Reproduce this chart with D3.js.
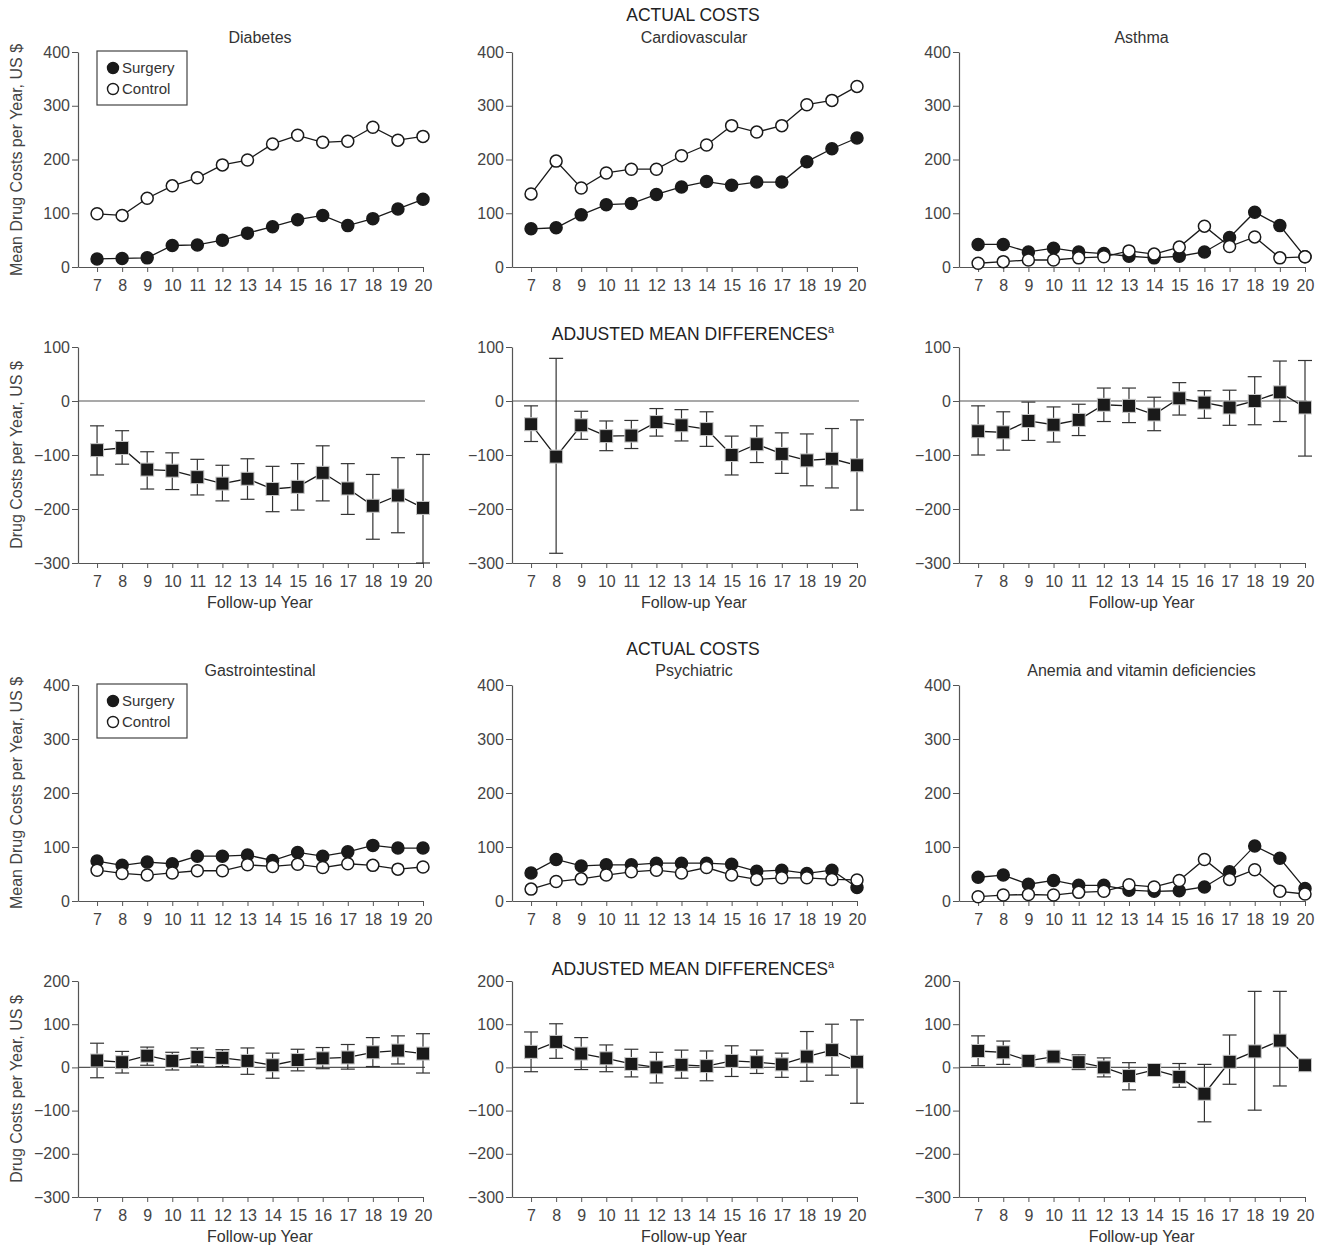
<!DOCTYPE html>
<html>
<head>
<meta charset="utf-8">
<script src="https://cdn.jsdelivr.net/npm/d3@7"></script>
<style>
  body { margin: 0; background: #fff; }
  svg { font-family: "Liberation Sans", Arial, sans-serif; }
  .tick text { fill: #444; font-size: 16px; }
  .tick line, .domain { stroke: #555; }
</style>
</head>
<body>
<div id="chart"></div>
<script>
// follow-up years on the x axis
var years = [7, 8, 9, 10, 11, 12, 13, 14, 15, 16, 17, 18, 19, 20];

// actual costs, mean drug costs per year (US $)
var diabetesSurgery = [15, 16, 17, 40, 41, 50, 63, 75, 88, 96, 77, 90, 108, 126];
var diabetesControl = [99, 96, 128, 151, 166, 190, 199, 229, 245, 232, 234, 260, 236, 243];
var cardioSurgery = [71, 73, 97, 116, 118, 135, 149, 159, 152, 158, 158, 196, 220, 240];
var cardioControl = [136, 197, 147, 175, 182, 182, 207, 227, 263, 251, 263, 302, 310, 336];
var asthmaSurgery = [42, 42, 28, 35, 28, 25, 20, 17, 20, 28, 55, 102, 77, 19];
var asthmaControl = [7, 10, 13, 13, 17, 19, 30, 24, 37, 76, 38, 56, 17, 19];
var giSurgery = [74, 66, 72, 69, 83, 83, 85, 75, 90, 83, 91, 103, 98, 98];
var giControl = [57, 51, 48, 52, 56, 56, 67, 64, 68, 62, 69, 66, 59, 63];
var psychSurgery = [52, 77, 65, 67, 67, 70, 70, 70, 68, 55, 57, 51, 57, 25];
var psychControl = [22, 36, 41, 48, 54, 57, 52, 62, 48, 40, 43, 43, 40, 39];
var anemiaSurgery = [44, 48, 31, 38, 29, 29, 20, 18, 19, 26, 54, 102, 79, 23];
var anemiaControl = [8, 11, 12, 11, 16, 18, 30, 26, 38, 77, 40, 58, 18, 13];

// adjusted mean differences with lower / upper limits
var diabetesDiff = [-91, -87, -127, -129, -141, -153, -144, -163, -159, -133, -162, -194, -175, -198];
var diabetesLow = [-137, -117, -163, -164, -174, -185, -182, -205, -202, -185, -210, -256, -244, -300];
var diabetesHigh = [-46, -55, -94, -96, -108, -119, -107, -121, -116, -83, -116, -136, -105, -99];
var cardioDiff = [-43, -103, -45, -65, -64, -39, -45, -52, -100, -80, -98, -110, -107, -119];
var cardioLow = [-75, -282, -71, -92, -88, -65, -74, -84, -137, -114, -134, -157, -161, -202];
var cardioHigh = [-9, 79, -19, -37, -36, -14, -16, -20, -65, -46, -59, -61, -51, -35];
var asthmaDiff = [-56, -58, -37, -44, -35, -7, -9, -25, 5, -3, -12, 0, 16, -12];
var asthmaLow = [-100, -91, -73, -76, -64, -38, -40, -55, -26, -32, -45, -44, -38, -102];
var asthmaHigh = [-9, -20, -2, -11, -6, 24, 24, 7, 34, 19, 20, 45, 74, 75];
var giDiff = [16, 12, 27, 15, 24, 22, 15, 5, 17, 21, 23, 35, 39, 32];
var giLow = [-24, -13, 5, -6, 3, 2, -16, -25, -8, -3, -4, 2, 8, -13];
var giHigh = [56, 37, 47, 35, 45, 41, 45, 33, 42, 46, 53, 69, 73, 78];
var psychDiff = [36, 59, 32, 21, 8, 0, 6, 3, 15, 12, 7, 25, 40, 13];
var psychLow = [-10, 21, -5, -10, -22, -36, -25, -31, -21, -14, -23, -32, -18, -83];
var psychHigh = [82, 101, 69, 52, 42, 35, 40, 38, 50, 40, 33, 83, 100, 110];
var anemiaDiff = [38, 35, 15, 25, 12, 0, -20, -6, -22, -61, 13, 37, 62, 5];
var anemiaLow = [4, 7, 6, 16, -5, -22, -52, -19, -46, -126, -39, -99, -43, 0];
var anemiaHigh = [73, 61, 24, 33, 29, 22, 11, 8, 9, 7, 75, 176, 176, 10];

var actualTicks = [0, 100, 200, 300, 400];
var diffTicksTop = [-300, -200, -100, 0, 100];
var diffTicksBottom = [-300, -200, -100, 0, 100, 200];

var W = 1324, H = 1247;
var svg = d3.select("#chart").append("svg").attr("width", W).attr("height", H);

var colX = [[78, 423], [512, 857], [959, 1305]];

function xScale(c) {
    return d3.scaleLinear().domain([6.24, 20]).range(colX[c]);
}

function drawAxes(g, x, y, yTicks) {
    g.append("g")
        .attr("transform", "translate(0," + y.range()[0] + ")")
        .call(d3.axisBottom(x).tickValues(years).tickSize(5).tickPadding(4).tickSizeOuter(0))
        .call(function (a) { a.selectAll("text").attr("dy", "0.95em"); });
    g.append("g")
        .attr("transform", "translate(" + x.range()[0] + ",0)")
        .call(d3.axisLeft(y).tickValues(yTicks).tickFormat(function (d) { return d < 0 ? "\u2212" + (-d) : d; })
            .tickSize(6).tickPadding(2).tickSizeOuter(0));
    g.selectAll(".domain").attr("stroke-width", 1.2);
}

function actualPanel(c, top, bottom, title, surgery, control, legend) {
    var x = xScale(c);
    var y = d3.scaleLinear().domain([0, 400]).range([bottom, top]);
    var g = svg.append("g");
    drawAxes(g, x, y, actualTicks);

    g.append("text")
        .attr("x", (x(7) + x(20)) / 2).attr("y", top - 9)
        .attr("text-anchor", "middle").attr("font-size", 16).attr("fill", "#333")
        .text(title);

    var line = d3.line().x(function (d, i) { return x(years[i]); }).y(function (d) { return y(d); });
    [surgery, control].forEach(function (s, k) {
        g.append("path").attr("d", line(s)).attr("fill", "none")
            .attr("stroke", "#1a1a1a").attr("stroke-width", 1.3);
        g.selectAll(null).data(s).enter().append("circle")
            .attr("cx", function (d, i) { return x(years[i]); })
            .attr("cy", function (d) { return y(d); })
            .attr("r", 6)
            .attr("fill", k === 0 ? "#1a1a1a" : "#fff")
            .attr("stroke", "#1a1a1a").attr("stroke-width", 1.5);
    });

    if (legend) {
        var lg = g.append("g").attr("transform", "translate(97," + (top - 1) + ")");
        lg.append("rect").attr("width", 90).attr("height", 54)
            .attr("fill", "#fff").attr("stroke", "#444").attr("stroke-width", 1.2);
        [["Surgery", "#1a1a1a"], ["Control", "#fff"]].forEach(function (d, i) {
            lg.append("circle").attr("cx", 16).attr("cy", 17 + i * 21).attr("r", 5.5)
                .attr("fill", d[1]).attr("stroke", "#1a1a1a").attr("stroke-width", 1.4);
            lg.append("text").attr("x", 25).attr("y", 22 + i * 21)
                .attr("font-size", 15).attr("fill", "#333").text(d[0]);
        });
    }
}

function diffPanel(c, top, bottom, domain, ticks, diff, low, high) {
    var x = xScale(c);
    var y = d3.scaleLinear().domain(domain).range([bottom, top]);
    var g = svg.append("g");
    drawAxes(g, x, y, ticks);

    g.append("line")
        .attr("x1", x.range()[0]).attr("x2", x(20) + 2)
        .attr("y1", y(0)).attr("y2", y(0))
        .attr("stroke", "#555").attr("stroke-width", 1.2);

    g.append("text")
        .attr("x", (x(7) + x(20)) / 2).attr("y", bottom + 45)
        .attr("text-anchor", "middle").attr("font-size", 16).attr("fill", "#333")
        .text("Follow-up Year");

    var bars = g.selectAll(null).data(diff).enter().append("g")
        .attr("stroke", "#333").attr("stroke-width", 1.2);
    bars.append("line")
        .attr("x1", function (d, i) { return x(years[i]); })
        .attr("x2", function (d, i) { return x(years[i]); })
        .attr("y1", function (d, i) { return y(low[i]); })
        .attr("y2", function (d, i) { return y(high[i]); });
    [low, high].forEach(function (lim) {
        bars.append("line")
            .attr("x1", function (d, i) { return x(years[i]) - 7; })
            .attr("x2", function (d, i) { return x(years[i]) + 7; })
            .attr("y1", function (d, i) { return y(lim[i]); })
            .attr("y2", function (d, i) { return y(lim[i]); });
    });

    var line = d3.line().x(function (d, i) { return x(years[i]); }).y(function (d) { return y(d); });
    g.append("path").attr("d", line(diff)).attr("fill", "none")
        .attr("stroke", "#1a1a1a").attr("stroke-width", 1.3);
    g.selectAll(null).data(diff).enter().append("rect")
        .attr("x", function (d, i) { return x(years[i]) - 6.5; })
        .attr("y", function (d) { return y(d) - 6.5; })
        .attr("width", 13).attr("height", 13)
        .attr("fill", "#1a1a1a").attr("stroke", "#c8c8c8").attr("stroke-width", 1);
}

function heading(yPos, sup) {
    var t = svg.append("text").attr("x", 693).attr("y", yPos)
        .attr("text-anchor", "middle").attr("font-size", 17.5).attr("fill", "#222")
        .text(sup ? "ADJUSTED MEAN DIFFERENCES" : "ACTUAL COSTS");
    if (sup) {
        t.append("tspan").attr("font-size", 11).attr("dy", -7).text("a");
    }
}

function yLabel(cy, label) {
    svg.append("text")
        .attr("transform", "translate(22," + cy + ") rotate(-90)")
        .attr("text-anchor", "middle").attr("font-size", 16).attr("fill", "#444")
        .text(label);
}

// top block
heading(21, false);
actualPanel(0, 52, 267, "Diabetes", diabetesSurgery, diabetesControl, true);
actualPanel(1, 52, 267, "Cardiovascular", cardioSurgery, cardioControl, false);
actualPanel(2, 52, 267, "Asthma", asthmaSurgery, asthmaControl, false);
heading(340, true);
diffPanel(0, 347, 563, [-300, 100], diffTicksTop, diabetesDiff, diabetesLow, diabetesHigh);
diffPanel(1, 347, 563, [-300, 100], diffTicksTop, cardioDiff, cardioLow, cardioHigh);
diffPanel(2, 347, 563, [-300, 100], diffTicksTop, asthmaDiff, asthmaLow, asthmaHigh);
yLabel(160, "Mean Drug Costs per Year, US $");
yLabel(455, "Drug Costs per Year, US $");

// bottom block
heading(655, false);
actualPanel(0, 685, 901, "Gastrointestinal", giSurgery, giControl, true);
actualPanel(1, 685, 901, "Psychiatric", psychSurgery, psychControl, false);
actualPanel(2, 685, 901, "Anemia and vitamin deficiencies", anemiaSurgery, anemiaControl, false);
heading(975, true);
diffPanel(0, 981, 1197, [-300, 200], diffTicksBottom, giDiff, giLow, giHigh);
diffPanel(1, 981, 1197, [-300, 200], diffTicksBottom, psychDiff, psychLow, psychHigh);
diffPanel(2, 981, 1197, [-300, 200], diffTicksBottom, anemiaDiff, anemiaLow, anemiaHigh);
yLabel(793, "Mean Drug Costs per Year, US $");
yLabel(1089, "Drug Costs per Year, US $");
</script>
</body>
</html>
